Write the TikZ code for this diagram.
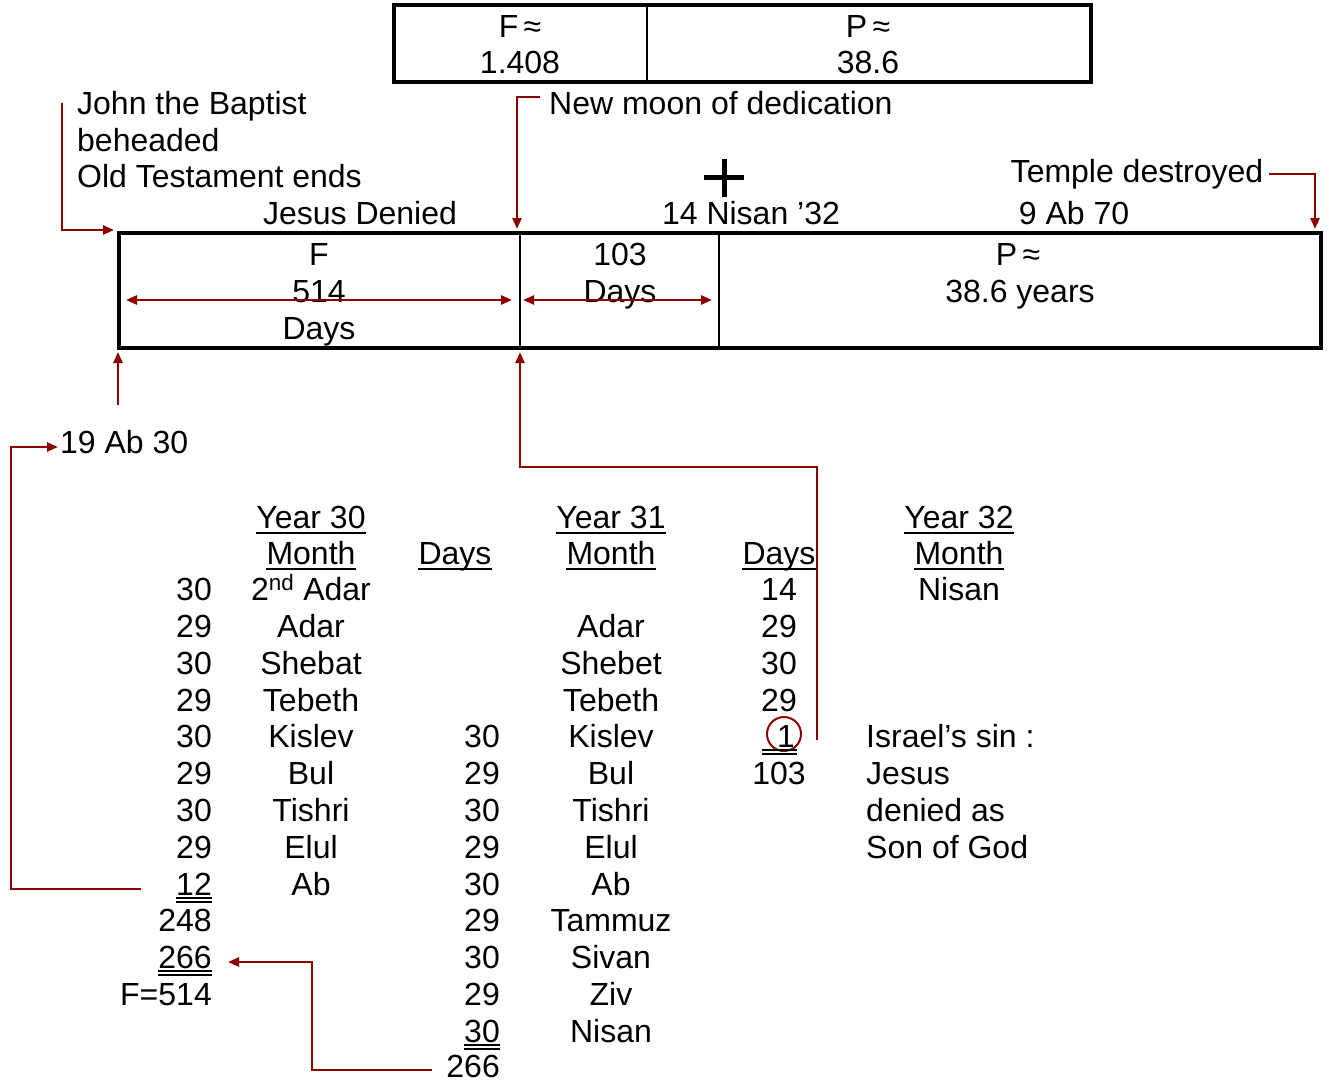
\documentclass[tikz,border=0pt]{standalone}
\usepackage{fontspec}
\setmainfont{Liberation Sans}
\usetikzlibrary{arrows.meta}
\definecolor{dred}{RGB}{140,0,0}
\begin{document}
\begin{tikzpicture}[x=1pt,y=-1pt,
  txt/.style={inner sep=0pt, font=\fontsize{32}{37}\selectfont, anchor=base},
  lt/.style={txt, anchor=base west},
  rt/.style={txt, anchor=base east},
  frame/.style={line width=3.5pt},
  divider/.style={line width=2pt},
  conn/.style={draw=dred, line width=2.5pt},
  tip/.style={-{Triangle[length=11pt,width=9pt]}},
  dtip/.style={{Triangle[length=11pt,width=9pt]}-{Triangle[length=11pt,width=9pt]}},
  ul/.style={line width=2.4pt},
  dul/.style={line width=1.8pt},
]
\useasboundingbox (0,0) rectangle (1329,1082);

% ---------- top box ----------
\draw[frame] (394,5) rectangle (1091,82);
\draw[divider] (647,5) -- (647,82);
\node[txt] (tF)  at (520,37) {F\,≈};
\node[txt] (tF2) at (520,73) {1.408};
\node[txt] (tP)  at (868,37) {P\,≈};
\node[txt] (tP2) at (868,73) {38.6};

% ---------- annotations above main box ----------
\node[lt] (john1) at (77,114) {John the Baptist};
\node[lt] (john2) at (77,151) {beheaded};
\node[lt] (john3) at (77,187) {Old Testament ends};
\node[txt] (jdenied) at (360,224) {Jesus Denied};
\node[lt] (newmoon) at (549,114) {New moon of dedication};
\node[txt] (nisan32) at (751,224) {14 Nisan ’32};
\node[txt] (temple) at (1137,182) {Temple destroyed};
\node[txt] (ab70) at (1074,224) {9 Ab 70};
\draw[line width=5pt] (724,159) -- (724,197) (704,177) -- (744,177);

% ---------- main box ----------
\draw[frame] (119,233) rectangle (1321,348);
\draw[divider] (520,233) -- (520,348);
\draw[divider] (719,233) -- (719,348);
\node[txt] (mF)  at (319,265) {F};
\node[txt] (mF2) at (319,302) {514};
\node[txt] (mF3) at (319,339) {Days};
\node[txt] (m103) at (620,265) {103};
\node[txt] (m103b) at (620,302) {Days};
\node[txt] (mP) at (1018,265) {P\,≈};
\node[txt] (mP2) at (1020,302) {38.6 years};
\coordinate (fa1) at (126,300); \coordinate (fa2) at (512,300);
\coordinate (da1) at (523,300); \coordinate (da2) at (712,300);
\draw[conn,dtip] (fa1) -- (fa2);
\draw[conn,dtip] (da1) -- (da2);

% ---------- connectors to main box ----------
\coordinate (johnS) at (62,103);
\coordinate (boxL) at (114,230);
\draw[conn,tip] (johnS) |- (boxL);
\coordinate (nmS) at (540,97);
\coordinate (boxD) at (517,229);
\draw[conn,tip] (nmS) -| (boxD);
\coordinate (tdS) at (1269,174);
\coordinate (boxR) at (1315,229);
\draw[conn,tip] (tdS) -| (boxR);
\coordinate (upS) at (118,405);
\coordinate (boxBL) at (118,352);
\draw[conn,tip] (upS) -- (boxBL);

\node[lt] (ab30) at (60,453) {19 Ab 30};
\coordinate (c12) at (141,889);
\coordinate (ab30W) at (58,447);
\draw[conn,tip] (c12) -- (11,889) |- (ab30W);

\coordinate (c1) at (817,740);
\coordinate (boxBM) at (520,352);
\draw[conn,tip] (c1) -- (817,467) -| (boxBM);

% ---------- table headings ----------
\node[txt] (y30) at (311,528) {Year 30};
\node[txt] (m30) at (311,564) {Month};
\node[txt] (d30) at (455,564) {Days};
\node[txt] (y31) at (611,528) {Year 31};
\node[txt] (m31) at (611,564) {Month};
\node[txt] (d31) at (779,564) {Days};
\node[txt] (y32) at (959,528) {Year 32};
\node[txt] (m32) at (959,564) {Month};
\foreach \n in {y30,m30,d30,y31,m31,d31,y32,m32}
  \draw[ul] ([yshift=-5pt]\n.base west) -- ([yshift=-5pt]\n.base east);

% ---------- column 1 (year 30 days) ----------
\node[rt] (a1) at (212,600) {30};
\node[rt] (a2) at (212,637) {29};
\node[rt] (a3) at (212,674) {30};
\node[rt] (a4) at (212,711) {29};
\node[rt] (a5) at (212,747) {30};
\node[rt] (a6) at (212,784) {29};
\node[rt] (a7) at (212,821) {30};
\node[rt] (a8) at (212,858) {29};
\node[rt] (a9) at (212,895) {12};
\node[rt] (a10) at (212,931) {248};
\node[rt] (a11) at (212,968) {266};
\node[rt] (a12) at (212,1005) {F=514};

% ---------- column 2 (year 30 months) ----------
\node[txt] (b1) at (311,600) {2\textsuperscript{nd} Adar};
\node[txt] (b2) at (311,637) {Adar};
\node[txt] (b3) at (311,674) {Shebat};
\node[txt] (b4) at (311,711) {Tebeth};
\node[txt] (b5) at (311,747) {Kislev};
\node[txt] (b6) at (311,784) {Bul};
\node[txt] (b7) at (311,821) {Tishri};
\node[txt] (b8) at (311,858) {Elul};
\node[txt] (b9) at (311,895) {Ab};

% ---------- column 3 (year 31 days) ----------
\node[rt] (c5) at (500,747) {30};
\node[rt] (c6) at (500,784) {29};
\node[rt] (c7) at (500,821) {30};
\node[rt] (c8) at (500,858) {29};
\node[rt] (c9) at (500,895) {30};
\node[rt] (c10) at (500,931) {29};
\node[rt] (c11) at (500,968) {30};
\node[rt] (c12n) at (500,1005) {29};
\node[rt] (c13) at (500,1042) {30};
\node[rt] (c14) at (500,1077) {266};

% ---------- column 4 (year 31 months) ----------
\node[txt] (e2) at (611,637) {Adar};
\node[txt] (e3) at (611,674) {Shebet};
\node[txt] (e4) at (611,711) {Tebeth};
\node[txt] (e5) at (611,747) {Kislev};
\node[txt] (e6) at (611,784) {Bul};
\node[txt] (e7) at (611,821) {Tishri};
\node[txt] (e8) at (611,858) {Elul};
\node[txt] (e9) at (611,895) {Ab};
\node[txt] (e10) at (611,931) {Tammuz};
\node[txt] (e11) at (611,968) {Sivan};
\node[txt] (e12) at (611,1005) {Ziv};
\node[txt] (e13) at (611,1042) {Nisan};

% ---------- column 5 (year 32 days) ----------
\node[txt] (f1) at (779,600) {14};
\node[txt] (f2) at (779,637) {29};
\node[txt] (f3) at (779,674) {30};
\node[txt] (f4) at (779,711) {29};
\node[rt] (f5) at (795,747) {1};
\node[txt] (f6) at (779,784) {103};
\draw[dred, line width=2pt] (784,734) circle (17pt);

% ---------- column 6 ----------
\node[txt] (g1) at (959,600) {Nisan};
\node[lt] (g5) at (866,747) {Israel’s sin :};
\node[lt] (g6) at (866,784) {Jesus};
\node[lt] (g7) at (866,821) {denied as};
\node[lt] (g8) at (866,858) {Son of God};

% ---------- double underlines ----------
\draw[dul] ([yshift=-3pt]a9.base west) -- ([yshift=-3pt]a9.base east)
           ([yshift=-7pt]a9.base west) -- ([yshift=-7pt]a9.base east);
\draw[dul] ([yshift=-3pt]a11.base west) -- ([yshift=-3pt]a11.base east)
           ([yshift=-7pt]a11.base west) -- ([yshift=-7pt]a11.base east);
\draw[dul] ([yshift=-3pt]c13.base west) -- ([yshift=-3pt]c13.base east)
           ([yshift=-7pt]c13.base west) -- ([yshift=-7pt]c13.base east);
\draw[dul] (762,750) -- (797,750) (762,754) -- (797,754);

% ---------- bottom connector ----------
\coordinate (c14W) at (432,1070);
\coordinate (a11E) at (228,962);
\draw[conn,tip] (c14W) -- (312,1070) |- (a11E);
\end{tikzpicture}
\end{document}
